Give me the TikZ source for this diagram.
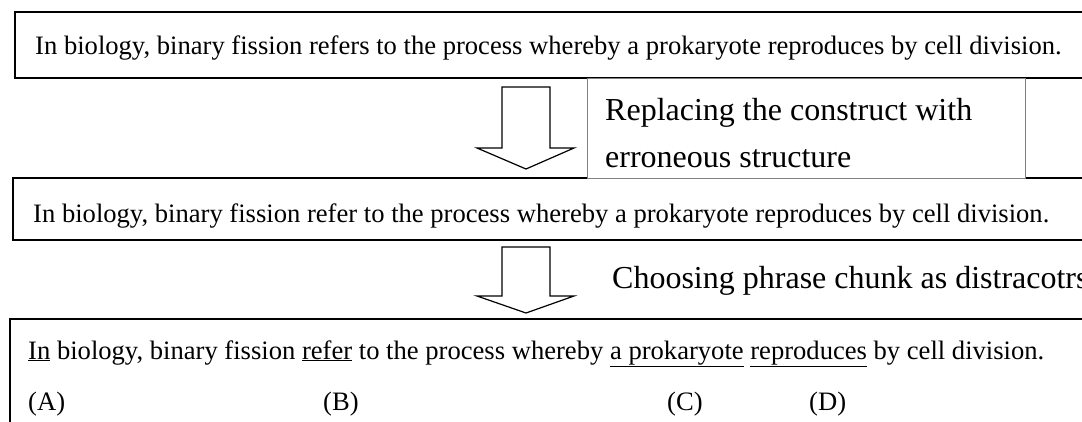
\documentclass[tikz,border=0pt]{standalone}
\usepackage{fontspec}
\setmainfont{Liberation Serif}
\usetikzlibrary{positioning}
\newcommand{\satz}{\fontsize{26.6}{31}\selectfont}
\newcommand{\gross}{\fontsize{32}{38}\selectfont}
\tikzset{
  kasten/.style={draw=black,line width=1.2pt},
  notiz/.style={draw=gray,line width=0.7pt,fill=white},
  blockpfeil/.style={draw=black,line width=1.2pt,fill=white,line join=miter},
  zeile/.style={anchor=base west,inner sep=0pt,font=\satz},
  schritt/.style={anchor=base west,inner sep=0pt,font=\gross}
}

\begin{document}
\begin{tikzpicture}[x=1pt,y=-1pt]
  \useasboundingbox (0,0) rectangle (1082,421);
  \clip (0,0) rectangle (1082,421);
  % Kaesten
  \draw[kasten] (15,12) rectangle (1100,78);
  \draw[kasten] (13,178) rectangle (1100,240);
  \draw[kasten] (10,319) rectangle (1100,440);
  \draw[notiz] (587,78) rectangle (1025,178);
  % Saetze
  \node[zeile] (original) at (35,54)
  {In biology, binary fission refers to the process whereby a prokaryote reproduces by cell division.};
  \node[zeile] (fehler) at (33,222)
  {In biology, binary fission refer to the process whereby a prokaryote reproduces by cell division.};
  \node[zeile] (aufgabe) at (28,359)
  {\underline{In} biology, binary fission \underline{refer} to the process whereby \underline{a prokaryote} \underline{reproduces} by cell division.};
  \node[zeile] (optA) at (28,410) {(A)};
  \node[zeile] (optB) at (323,410) {(B)};
  \node[zeile] (optC) at (667,410) {(C)};
  \node[zeile] (optD) at (809,410) {(D)};
  % Schritte
  \node[schritt] (ersetzen) at (605,120) {Replacing the construct with};
  \node[schritt] (ersetzen2) at (605,167) {erroneous structure};
  \node[schritt] (auswahl) at (612,288) {Choosing phrase chunk as distracotrs};
  % Pfeile
  \draw[blockpfeil] (502,87) -- (550,87) -- (550,148) -- (574,148)
  -- (526,169) -- (477,148) -- (502,148) -- cycle;
  \draw[blockpfeil] (502,247) -- (550,247) -- (550,296) -- (574,296)
  -- (526,313) -- (477,296) -- (502,296) -- cycle;
\end{tikzpicture}
\end{document}
